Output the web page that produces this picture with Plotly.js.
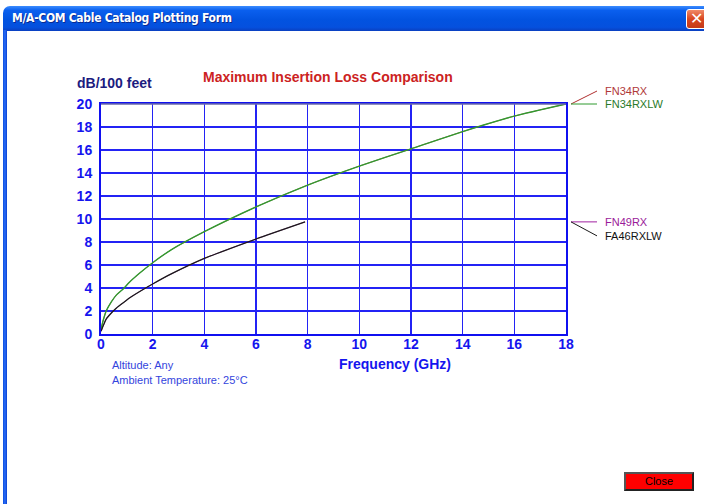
<!DOCTYPE html>
<html>
<head>
<meta charset="utf-8">
<script src="https://cdn.plot.ly/plotly-3.0.1.min.js"></script>
<style>
  html, body { margin:0; padding:0; background:#ffffff; }
  #wrap { position:relative; width:704px; height:504px; overflow:hidden; background:#fff; }
  #chart { position:absolute; left:0; top:0; width:704px; height:504px; }
  #titlebar { position:absolute; left:3px; top:6px; width:701px; height:25px;
    background:linear-gradient(#3b8cff 0%, #0a5fee 18%, #0253e0 55%, #0550de 85%, #0a3fc0 100%);
    border-top-left-radius:7px; z-index:5; }
  #titletext { position:absolute; left:9px; top:5px; color:#fff; font-family:"Liberation Sans Narrow","DejaVu Sans Condensed",sans-serif;
    font-weight:bold; font-size:12px; letter-spacing:-0.3px; text-shadow:1px 1px 0 #0a2a90; white-space:nowrap; }
  #leftborder { position:absolute; left:3px; top:30px; width:4px; height:474px;
    background:linear-gradient(90deg,#0a4ee0,#2a6cf6,#0840d0); z-index:5; }
  #xbtn { position:absolute; left:686px; top:9px; width:21px; height:20px; border:1px solid #fff; border-radius:3px;
    background:linear-gradient(#f08a6a,#d9471f 50%,#c43a18); z-index:6; box-sizing:border-box; }
  #xbtn span { position:absolute; left:3px; top:-1px; color:#fff; font:bold 16px "DejaVu Sans",sans-serif; }
  #close { position:absolute; left:624px; top:472px; width:70px; height:19px; box-sizing:border-box;
    background:#ff0000; border:2px solid #222; border-top-color:#555; border-left-color:#555; z-index:6;
    font:11px "Liberation Sans",Arial,sans-serif; color:#000; text-align:center; line-height:15px; }
</style>
</head>
<body>
<div id="wrap">
  <div id="chart"></div>
  <div id="titlebar"><div id="titletext">M/A-COM Cable Catalog Plotting Form</div></div>
  <div id="leftborder"></div>
  <div id="xbtn"><span>✕</span></div>
  <div id="close">Close</div>
</div>
<script>
// ---- data ----
const chartTitle = "Maximum Insertion Loss Comparison";
const yUnitLabel = "dB/100 feet";
const xAxisLabel = "Frequency (GHz)";
const noteLines = ["Altitude: Any", "Ambient Temperature: 25°C"];

const seriesNames = ["FN34RX", "FN34RXLW", "FN49RX", "FA46RXLW"];
const seriesColors = ["#b03030", "#2f9a2f", "#a020a0", "#1a1a1a"];
const labelColors = ["#b03838", "#2a7a2a", "#9a1a9a", "#111111"];

const freqA = [0, 0.1, 0.2, 0.4, 0.6, 0.85, 1.1, 1.5, 2, 2.7, 4, 6, 8, 10, 12, 14, 16, 18];
const lossFN34RX   = [0.43, 1.3, 2.0, 2.8, 3.4, 3.9, 4.5, 5.3, 6.2, 7.3, 8.9, 11.05, 12.95, 14.6, 16.1, 17.6, 18.95, 20.0];
const lossFN34RXLW = [0.43, 1.3, 2.0, 2.8, 3.4, 3.9, 4.5, 5.3, 6.2, 7.3, 8.9, 11.05, 12.95, 14.6, 16.1, 17.6, 18.95, 20.0];

const freqB = [0, 0.1, 0.2, 0.4, 0.6, 0.85, 1.1, 1.5, 2, 2.7, 4, 6, 7.9];
const lossFN49RX   = [0.23, 0.8, 1.3, 1.83, 2.26, 2.7, 3.13, 3.7, 4.35, 5.2, 6.57, 8.26, 9.75];
const lossFA46RXLW = [0.23, 0.8, 1.3, 1.83, 2.26, 2.7, 3.13, 3.7, 4.35, 5.2, 6.57, 8.26, 9.75];

const xTicks = [0, 2, 4, 6, 8, 10, 12, 14, 16, 18];
const yTicks = [0, 2, 4, 6, 8, 10, 12, 14, 16, 18, 20];
const xRange = [0, 18];
const yRange = [0, 20];

// label offsets (pixels above the series end value)
const labelShift = [13, 0, 0, -14];

// ---- build ----
const seriesX = [freqA, freqA, freqB, freqB];
const seriesY = [lossFN34RX, lossFN34RXLW, lossFN49RX, lossFA46RXLW];
const seriesWidth = [0.8, 1.4, 0.8, 1.3];

const traces = seriesNames.map((n, i) => ({
  type: "scatter", mode: "lines", name: n,
  x: seriesX[i], y: seriesY[i],
  line: { color: seriesColors[i], width: seriesWidth[i], shape: "spline", smoothing: 0.6 },
  hoverinfo: "skip"
}));

const L = 101, R = 566, T = 104, B = 334;
const W = R - L, H = B - T;
const px = v => (v - L) / W;
const py = v => (B - v) / H;
const yToPaper = v => (v - yRange[0]) / (yRange[1] - yRange[0]);

const annotations = [];
const shapes = [];

annotations.push({ xref: "paper", yref: "paper", x: px(328), y: py(77), text: "<b>" + chartTitle + "</b>",
  showarrow: false, xanchor: "center", yanchor: "middle",
  font: { family: "Liberation Sans, Arial, sans-serif", size: 14, color: "#cc2222" } });
annotations.push({ xref: "paper", yref: "paper", x: px(114), y: py(83), text: "<b>" + yUnitLabel + "</b>",
  showarrow: false, xanchor: "center", yanchor: "middle",
  font: { family: "Liberation Sans, Arial, sans-serif", size: 14, color: "#1c1c80" } });
annotations.push({ xref: "paper", yref: "paper", x: px(395), y: py(364), text: "<b>" + xAxisLabel + "</b>",
  showarrow: false, xanchor: "center", yanchor: "middle",
  font: { family: "Liberation Sans, Arial, sans-serif", size: 14, color: "#1515ee" } });
noteLines.forEach((t, i) => annotations.push({ xref: "paper", yref: "paper", x: px(110), y: py(365 + i * 15), text: t,
  showarrow: false, xanchor: "left", yanchor: "middle",
  font: { family: "Liberation Sans, Arial, sans-serif", size: 11, color: "#3344dd" } }));

seriesNames.forEach((n, i) => {
  const ys = seriesY[i];
  const last = ys[ys.length - 1];
  const yp = yToPaper(last);
  annotations.push({ xref: "paper", yref: "paper", x: px(603), y: yp, yshift: labelShift[i], text: n,
    showarrow: false, xanchor: "left", yanchor: "middle",
    font: { family: "Liberation Sans, Arial, sans-serif", size: 11, color: labelColors[i] } });
  shapes.push({ type: "line", xref: "paper", yref: "paper",
    x0: px(571), x1: px(597), y0: yp, y1: yp + labelShift[i] / H,
    line: { color: seriesColors[i], width: 1 } });
});

// top border (greyish)
shapes.push({ type: "line", xref: "paper", yref: "paper", x0: 0, x1: 1, y0: 1, y1: 1,
  line: { color: "#6a6aa8", width: 1.5 } });

const tickFont = { family: "Liberation Sans, Arial, sans-serif", size: 14, color: "#1515ee", weight: "bold" };

const layout = {
  width: 704, height: 504,
  margin: { l: L, r: 704 - R, t: T, b: 504 - B, pad: 0 },
  paper_bgcolor: "#ffffff", plot_bgcolor: "#ffffff",
  showlegend: false,
  xaxis: { range: xRange, tickmode: "array", tickvals: xTicks, ticktext: xTicks.map(String),
    showgrid: true, gridcolor: "#2323f5", gridwidth: 1.2, zeroline: false,
    showline: true, linecolor: "#1010f0", linewidth: 2, mirror: true,
    ticks: "", tickfont: tickFont, ticklabelstandoff: -4, fixedrange: true },
  yaxis: { range: yRange, tickmode: "array", tickvals: yTicks, ticktext: yTicks.map(String),
    showgrid: true, gridcolor: "#2323f5", gridwidth: 1.2, zeroline: false,
    showline: true, linecolor: "#1010f0", linewidth: 2, mirror: true,
    ticks: "", tickfont: tickFont, ticklabelstandoff: 4, fixedrange: true },
  annotations: annotations,
  shapes: shapes
};

Plotly.newPlot("chart", traces, layout, { displayModeBar: false, staticPlot: true });
</script>
</body>
</html>
